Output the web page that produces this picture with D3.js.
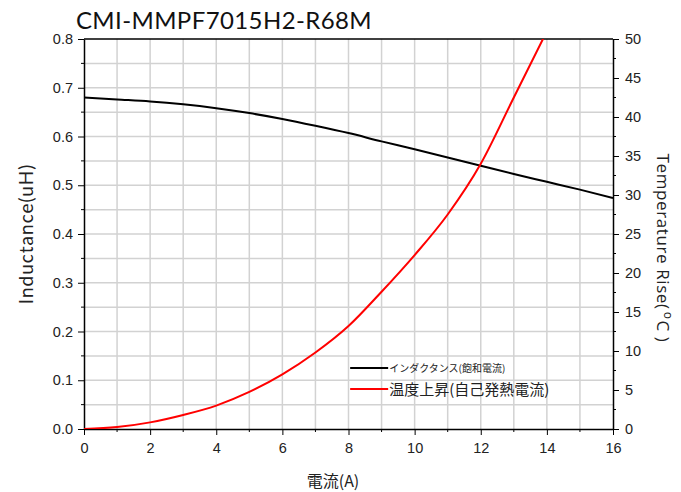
<!DOCTYPE html>
<html>
<head>
<meta charset="utf-8">
<script src="https://cdn.jsdelivr.net/npm/d3@7"></script>
<style>
  body { margin: 0; background: #fff; }
  text { fill: #222; }
</style>
</head>
<body>
<div id="chart"></div>
<script>
// inductance (left axis) and temperature rise (right axis) vs current
const current = [0, 1, 2, 3, 4, 5, 6, 7, 8, 9, 10, 11, 12, 13, 14, 15, 16];
const inductance = [0.680, 0.676, 0.672, 0.666, 0.658, 0.648, 0.636, 0.622, 0.607, 0.590, 0.574, 0.557, 0.540, 0.523, 0.507, 0.491, 0.474];
const tempCurrent = [0, 1, 2, 3, 4, 5, 6, 7, 8, 9, 10, 11, 12, 13, 14];
const tempRise = [0, 0.25, 0.85, 1.8, 3.0, 4.75, 7.0, 9.8, 13.2, 17.6, 22.3, 27.5, 34.0, 42.5, 51.0];
const xTicks = [0, 2, 4, 6, 8, 10, 12, 14, 16];
const yTicks = [0.0, 0.1, 0.2, 0.3, 0.4, 0.5, 0.6, 0.7, 0.8];
const y2Ticks = [0, 5, 10, 15, 20, 25, 30, 35, 40, 45, 50];

const W = 681, H = 492;
const margin = { top: 39, right: 68, bottom: 63, left: 84 };
const width = W - margin.left - margin.right;
const height = H - margin.top - margin.bottom;

const svg = d3.select("#chart").append("svg")
    .attr("width", W).attr("height", H);

const g = svg.append("g")
    .attr("transform", `translate(${margin.left}, ${margin.top})`);

const xScale = d3.scaleLinear().domain([0, 16]).range([0, width]);
const yScale = d3.scaleLinear().domain([0, 0.8]).range([height, 0]);
const y2Scale = d3.scaleLinear().domain([0, 50]).range([height, 0]);

// grid
g.append("g").selectAll("line")
    .data(d3.range(1, 16))
    .join("line")
    .attr("x1", d => xScale(d)).attr("x2", d => xScale(d))
    .attr("y1", 0).attr("y2", height)
    .attr("stroke", "#d2d2d2").attr("stroke-width", 1.5);

g.append("g").selectAll("line")
    .data(d3.range(1, 16).map(d => d * 0.05))
    .join("line")
    .attr("x1", 0).attr("x2", width)
    .attr("y1", d => yScale(d)).attr("y2", d => yScale(d))
    .attr("stroke", "#d2d2d2").attr("stroke-width", 1.5);

// clip for curves
svg.append("defs").append("clipPath").attr("id", "clip")
    .append("rect").attr("width", width).attr("height", height);

const tickFont = "'Liberation Sans', Arial, sans-serif";

// x axis
const xAxis = g.append("g")
    .attr("transform", `translate(0, ${height})`)
    .call(d3.axisBottom(xScale).tickValues(xTicks).tickSize(6).tickSizeOuter(0).tickPadding(8));
xAxis.append("g").selectAll("line")
    .data(d3.range(1, 16, 2))
    .join("line")
    .attr("x1", d => xScale(d)).attr("x2", d => xScale(d))
    .attr("y1", 0).attr("y2", 3)
    .attr("stroke", "#000");

// left axis
const yAxis = g.append("g")
    .call(d3.axisLeft(yScale).tickValues(yTicks).tickFormat(d3.format(".1f")).tickSize(6).tickSizeOuter(0).tickPadding(5));
yAxis.append("g").selectAll("line")
    .data(d3.range(0, 8).map(d => d * 0.1 + 0.05))
    .join("line")
    .attr("x1", 0).attr("x2", -3)
    .attr("y1", d => yScale(d)).attr("y2", d => yScale(d))
    .attr("stroke", "#000");

// right axis
const y2Axis = g.append("g")
    .attr("transform", `translate(${width}, 0)`)
    .call(d3.axisRight(y2Scale).tickValues(y2Ticks).tickSize(6).tickSizeOuter(0).tickPadding(6));
y2Axis.append("g").selectAll("line")
    .data(d3.range(0, 10).map(d => d * 5 + 2.5))
    .join("line")
    .attr("x1", 0).attr("x2", 3)
    .attr("y1", d => y2Scale(d)).attr("y2", d => y2Scale(d))
    .attr("stroke", "#000");

// top border
g.append("line")
    .attr("x1", 0).attr("x2", width).attr("y1", 0).attr("y2", 0)
    .attr("stroke", "#000").attr("stroke-width", 1.5);

[xAxis, yAxis, y2Axis].forEach(a => {
    a.select(".domain").attr("stroke", "#000").attr("stroke-width", 1.5);
    a.selectAll(".tick line").attr("stroke", "#000");
    a.selectAll(".tick text")
        .style("font-family", tickFont)
        .style("font-size", "14.5px")
        .style("fill", "#222");
});

// curves
const curves = g.append("g").attr("clip-path", "url(#clip)");

const lineL = d3.line()
    .x((d, i) => xScale(current[i]))
    .y(d => yScale(d))
    .curve(d3.curveMonotoneX);

const lineT = d3.line()
    .x((d, i) => xScale(tempCurrent[i]))
    .y(d => y2Scale(d))
    .curve(d3.curveMonotoneX);

curves.append("path")
    .datum(inductance)
    .attr("d", lineL)
    .attr("fill", "none")
    .attr("stroke", "#000")
    .attr("stroke-width", 2);

curves.append("path")
    .datum(tempRise)
    .attr("d", lineT)
    .attr("fill", "none")
    .attr("stroke", "#ff0000")
    .attr("stroke-width", 2);

// legend
const legend = g.append("g").attr("transform", `translate(${xScale(8.05)}, ${yScale(0.125)})`);
const legendItems = [
    { label: "インダクタンス(飽和電流)", color: "#000", size: 10, dy: 0 },
    { label: "温度上昇(自己発熱電流)", color: "#ff0000", size: 15, dy: 21 }
];
legendItems.forEach(it => {
    legend.append("line")
        .attr("x1", 0).attr("x2", 38)
        .attr("y1", it.dy).attr("y2", it.dy)
        .attr("stroke", it.color).attr("stroke-width", 2);
    legend.append("text")
        .attr("x", 39).attr("y", it.dy)
        .attr("dy", "0.38em")
        .style("font-family", "'Noto Sans CJK JP', sans-serif")
        .style("font-size", it.size + "px")
        .text(it.label);
});

// title
svg.append("text")
    .attr("x", 224).attr("y", 29)
    .attr("text-anchor", "middle")
    .style("font-family", "Lato, sans-serif")
    .style("font-size", "24px")
    .style("letter-spacing", "0.4px")
    .style("fill", "#111")
    .text("CMI-MMPF7015H2-R68M");

// axis titles
svg.append("text")
    .attr("transform", `translate(33, ${margin.top + height / 2}) rotate(-90)`)
    .attr("text-anchor", "middle")
    .style("font-family", "Lato, sans-serif")
    .style("font-size", "19px")
    .style("letter-spacing", "1px")
    .text("Inductance(uH)");

svg.append("text")
    .attr("transform", `translate(657, ${margin.top + height / 2 + 14}) rotate(90)`)
    .attr("text-anchor", "middle")
    .style("font-family", "'Open Sans', sans-serif")
    .style("font-size", "17px")
    .style("letter-spacing", "0.6px")
    .html("Temperature Rise(<tspan dx='2' dy='-7' font-size='12'>o</tspan><tspan dx='1' dy='7'>C )</tspan>");

svg.append("text")
    .attr("x", 333).attr("y", 487)
    .attr("text-anchor", "middle")
    .style("font-family", "'Noto Sans CJK JP', sans-serif")
    .style("font-size", "16px")
    .text("電流(A)");
</script>
</body>
</html>
